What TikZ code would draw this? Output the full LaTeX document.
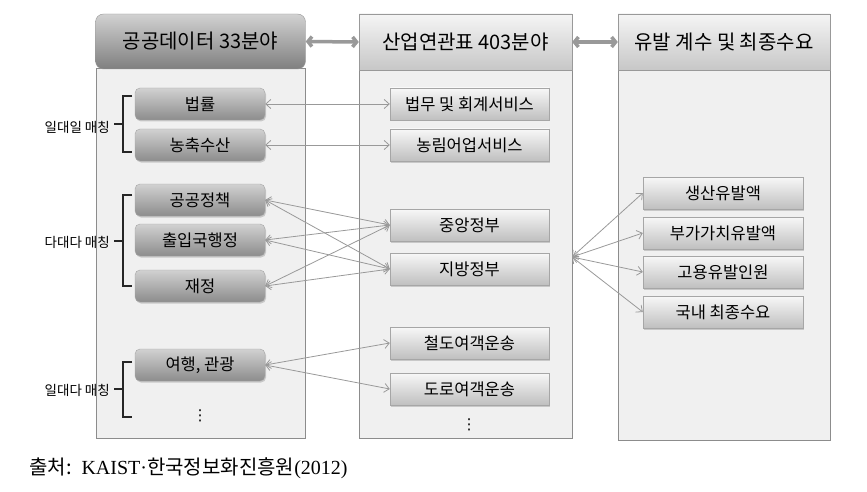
\documentclass[tikz,border=0pt]{standalone}
\usepackage{fontspec}
\setmainfont{Liberation Serif}
\newfontfamily\kr{Noto Sans CJK KR}
\newfontfamily\sym{DejaVu Sans}
\usetikzlibrary{arrows.meta,shadows}

\begin{document}
\begin{tikzpicture}[x=1pt,y=-1pt,>={Straight Barb[length=5pt,width=9pt]}]
    \tikzstyle{column}=[draw=black!45,fill=black!6,line width=0.8pt,inner sep=0pt]
    \tikzstyle{head}=[draw=black!40,top color=black!4,bottom color=black!22,minimum height=56pt,inner sep=0pt,font=\kr\fontsize{20}{22}\selectfont]
    \tikzstyle{dark head}=[head,rounded corners=8pt,top color=black!18,bottom color=black!50]
    \tikzstyle{item}=[draw=black!35,top color=black!3,bottom color=black!25,minimum height=32pt,inner sep=0pt,font=\kr\fontsize{16.5}{18}\selectfont,drop shadow={opacity=0.35,shadow xshift=1pt,shadow yshift=-1.5pt}]
    \tikzstyle{dark item}=[item,rounded corners=5pt,top color=black!18,bottom color=black!45,minimum width=130pt]
    \tikzstyle{mid item}=[item,minimum width=159pt]
    \tikzstyle{right item}=[item,minimum width=160pt]
    \tikzstyle{link}=[<->,draw=black!40,line width=0.8pt]
    \tikzstyle{big link}=[<->,draw=black!40,line width=3.5pt,>={Straight Barb[length=4pt,width=10pt]}]
    \tikzstyle{brace}=[line width=1.5pt,draw=black!85]
    \tikzstyle{annot}=[anchor=east,inner sep=0pt,font=\kr\fontsize{13.5}{15}\selectfont]
    \tikzstyle{more}=[inner sep=0pt,font=\sym\fontsize{15}{15}\selectfont]

    \useasboundingbox (0,0) rectangle (867,492);

    % Draw the three columns and their headers
    \node[column,minimum width=209pt,minimum height=370pt] (C-1) at (200.5,253) {};
    \node[column,minimum width=213pt,minimum height=368pt] (C-2) at (465.5,254) {};
    \node[column,minimum width=212pt,minimum height=370pt] (C-3) at (724,255) {};
    \node[dark head,minimum width=210pt,minimum height=55pt] (H-1) at (200.5,41.5) {공공데이터 33분야};
    \node[head,minimum width=213pt] (H-2) at (465.5,42) {산업연관표 403분야};
    \node[head,minimum width=212pt] (H-3) at (724,42) {유발 계수 및 최종수요};

    % Draw the public data fields
    \foreach \name / \y / \txt in {1/104/법률,2/145/농축수산,3/200/공공정책,4/240/출입국행정,5/286/재정,6/365/{여행, 관광}}
        \node[dark item] (L-\name) at (200,\y) {\txt};
    \node[more] (L-dots) at (200,416) {⋮};

    % Draw the input-output table sectors
    \foreach \name / \y / \txt in {1/104/법무 및 회계서비스,2/145/농림어업서비스,3/225/중앙정부,4/269/지방정부,5/343/철도여객운송,6/389/도로여객운송}
        \node[mid item] (M-\name) at (469.5,\y) {\txt};
    \node[more] (M-dots) at (469,425) {⋮};

    % Draw the induced coefficients
    \foreach \name / \y / \txt in {1/193/생산유발액,2/233/부가가치유발액,3/272/고용유발인원,4/312/국내 최종수요}
        \node[right item] (R-\name) at (723,\y) {\txt};

    % Connect the headers
    \draw[big link] (H-1.east) -- (H-2.west);
    \draw[big link] (H-2.east) -- (H-3.west);

    % One to one
    \draw[link] (L-1.east) -- (M-1.west);
    \draw[link] (L-2.east) -- (M-2.west);

    % Many to many
    \foreach \source in {3,4,5}
        \foreach \dest in {3,4}
            \draw[link] (L-\source.east) -- (M-\dest.west);

    % One to many
    \draw[link] (L-6.east) -- (M-5.west);
    \draw[link] (L-6.east) -- (M-6.west);

    % Connect the middle column with every coefficient
    \coordinate (hub) at (572,257);
    \foreach \dest in {1,...,4}
        \draw[link] (hub) -- (R-\dest.west);

    % Brackets and their labels
    \draw[brace] (132,96) -- (123,96) -- (123,152) -- (132,152) (123,124) -- (114,124);
    \draw[brace] (132,195) -- (123,195) -- (123,286) -- (132,286) (123,241) -- (114,241);
    \draw[brace] (132,362) -- (123,362) -- (123,417) -- (132,417) (123,389) -- (114,389);
    \node[annot] (one-one) at (110,127) {일대일 매칭};
    \node[annot] (many-many) at (110,242) {다대다 매칭};
    \node[annot] (one-many) at (110,390) {일대다 매칭};

    % Source
    \node[anchor=west,inner sep=0pt,font=\fontsize{20}{22}\selectfont] (src) at (29,468) {{\kr 출처:}\ \ KAIST·{\kr 한국정보화진흥원}(2012)};
\end{tikzpicture}
\end{document}
